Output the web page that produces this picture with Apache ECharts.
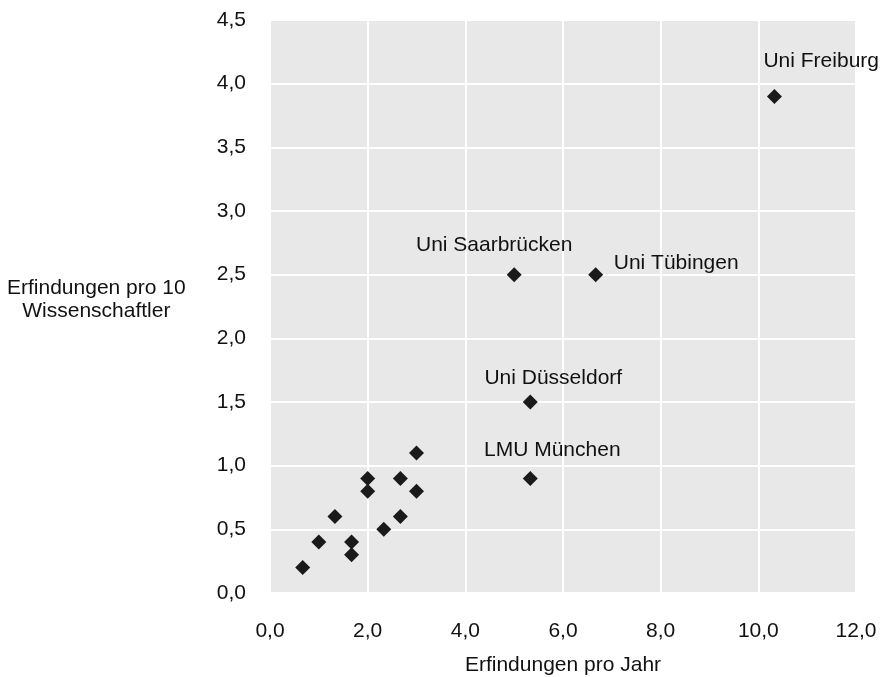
<!DOCTYPE html>
<html>
<head>
<meta charset="utf-8">
<script src="https://cdn.jsdelivr.net/npm/echarts@6/dist/echarts.min.js"></script>
<style>
  html, body { margin: 0; padding: 0; background: #ffffff; }
  #chart { width: 884px; height: 677px; }
</style>
</head>
<body>
<div id="chart"></div>
<script>
// Data: inventions per year (x), inventions per 10 scientists (y)
var xValues = [0.67, 1.0, 1.33, 1.67, 1.67, 2.0, 2.0, 2.33, 2.67, 2.67, 3.0, 3.0, 5.33, 5.33, 5.0, 6.67, 10.33];
var yValues = [0.2, 0.4, 0.6, 0.4, 0.3, 0.9, 0.8, 0.5, 0.9, 0.6, 0.8, 1.1, 0.9, 1.5, 2.5, 2.5, 3.9];
var pointNames = ['', '', '', '', '', '', '', '', '', '', '', '', 'LMU München', 'Uni Düsseldorf', 'Uni Saarbrücken', 'Uni Tübingen', 'Uni Freiburg'];
var xTicks = [0, 2, 4, 6, 8, 10, 12];
var yTicks = [0, 0.5, 1, 1.5, 2, 2.5, 3, 3.5, 4, 4.5];
var xTitle = 'Erfindungen pro Jahr';
var yTitle = 'Erfindungen pro 10\nWissenschaftler';

// label placement (styles, kept apart from data)
var labelPlacement = {
  'LMU München':     { align: 'center', offset: [22, -28] },
  'Uni Düsseldorf':  { align: 'center', offset: [23, -24] },
  'Uni Saarbrücken': { align: 'center', offset: [-20, -29] },
  'Uni Tübingen':    { align: 'left',   offset: [18, -11] },
  'Uni Freiburg':    { align: 'left',   offset: [-11, -35] }
};

var FONT = 'Liberation Sans, Arial, sans-serif';
var TXT = '#111111';
function fmt(v) { return v.toFixed(1).replace('.', ','); }

var data = xValues.map(function (x, i) {
  var d = { value: [x, yValues[i]], name: pointNames[i] };
  if (pointNames[i]) {
    var p = labelPlacement[pointNames[i]];
    d.label = {
      show: true,
      position: 'inside',
      formatter: '{b}',
      align: p.align,
      verticalAlign: 'middle',
      offset: p.offset,
      color: TXT,
      fontSize: 21,
      fontFamily: FONT
    };
  }
  return d;
});

var chart = echarts.init(document.getElementById('chart'), null, { renderer: 'canvas' });
chart.setOption({
  animation: false,
  backgroundColor: '#ffffff',
  grid: {
    left: 270, right: 28, top: 20, bottom: 84,
    outerBoundsMode: 'none',
    containLabel: false,
    show: true, backgroundColor: '#e8e8e8', borderWidth: 0
  },
  xAxis: {
    type: 'value',
    min: xTicks[0], max: xTicks[xTicks.length - 1], interval: 2,
    name: xTitle, nameLocation: 'middle', nameGap: 62,
    nameTextStyle: { color: TXT, fontSize: 21, fontFamily: FONT },
    axisLine: { show: false }, axisTick: { show: false },
    axisLabel: { color: TXT, fontSize: 21, fontFamily: FONT, margin: 28, formatter: fmt },
    splitLine: { show: true, lineStyle: { color: '#ffffff', width: 2 } }
  },
  yAxis: {
    type: 'value',
    min: yTicks[0], max: yTicks[yTicks.length - 1], interval: 0.5,
    axisLine: { show: false }, axisTick: { show: false },
    axisLabel: { color: TXT, fontSize: 21, fontFamily: FONT, margin: 24, formatter: fmt, padding: [9, 0, 0, 0] },
    splitLine: { show: true, lineStyle: { color: '#ffffff', width: 2 } }
  },
  graphic: [{
    type: 'text',
    left: 104 - 97, top: 277,
    style: {
      text: yTitle,
      fill: TXT,
      font: '21px ' + FONT,
      textAlign: 'center',
      lineHeight: 23
    }
  }],
  series: [{
    type: 'scatter',
    data: data,
    symbol: 'diamond',
    symbolSize: 15,
    itemStyle: { color: '#1a1a1a', opacity: 1 },
    label: { show: false }
  }]
});
</script>
</body>
</html>
